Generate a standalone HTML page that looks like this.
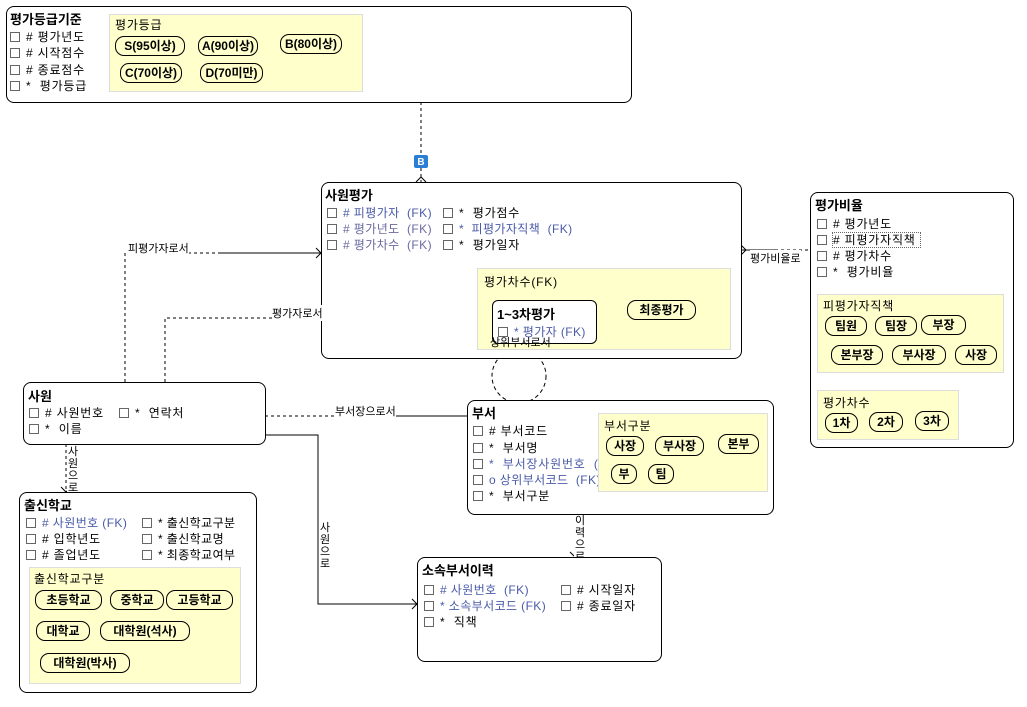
<!DOCTYPE html>
<html><head><meta charset="utf-8">
<style>
body{margin:0;width:1027px;height:707px;background:#fff;position:relative;overflow:hidden;font-family:"Liberation Sans","Noto Sans CJK KR","NanumGothic",sans-serif;font-size:12px;color:#000}
.e{position:absolute;border:1px solid #000;border-radius:8px;background:#fff}
.t{position:absolute;font-weight:bold;font-size:13px;white-space:nowrap}
.a{position:absolute;white-space:nowrap;font-size:12px;line-height:16px;letter-spacing:0.8px}
.a b{display:inline-block;width:8px;height:8px;border:1px solid #666;margin-right:6px;vertical-align:-1px;font-weight:normal}
.n{letter-spacing:0.4px}
.fk{color:#4a5ba8}
.y{position:absolute;background:#ffffcc;border:1px solid #ddd}
.p{position:absolute;border:1px solid #000;border-radius:9px;font-weight:bold;font-size:12px;line-height:18px;text-align:center;white-space:nowrap;background:#ffffcc}
.l{position:absolute;font-size:11px;white-space:nowrap;background:#fff}
.v{position:absolute;font-size:11px;width:12px;line-height:12px;text-align:center;background:#fff}
svg{position:absolute;left:0;top:0}
</style></head><body>
<svg width="1027" height="707">
<g fill="none" stroke="#000" stroke-width="1">
<line x1="421" y1="102" x2="421" y2="182" stroke-dasharray="3,3"/>
<path d="M125 382 V253 H220" stroke-dasharray="3,3"/><path d="M220 253 H321"/>
<path d="M165 382 V318 H320" stroke-dasharray="3,3"/><path d="M320 318 H492"/>
<path d="M741 250 H775"/><path d="M775 250 H810" stroke-dasharray="3,3"/>
<circle cx="519" cy="376" r="27" stroke-dasharray="4,3"/>
<path d="M265 416 H365" stroke-dasharray="3,3"/><path d="M365 416 H467"/>
<path d="M265 435 H318 V604 H417"/>
<line x1="66" y1="444" x2="66" y2="492" stroke-dasharray="3,3"/>
<line x1="575" y1="514" x2="575" y2="557" stroke-dasharray="3,3"/>
<path d="M316 248 L321 253 L316 258 M316 253 H321"/>
<path d="M487 313 L492 318 L487 323"/>
<path d="M741 245 L746 250 L741 255"/>
<path d="M412 599 L417 604 L412 609"/>
<path d="M61 487 L66 492 L71 487"/>
<path d="M570 552 L575 557 L580 552"/>
<path d="M416 182 L421 177 L426 182"/>
</g>
<rect x="414" y="155" width="14" height="13" rx="2" fill="#2a7fd4"/>
<text x="421" y="165" font-size="10" font-weight="bold" fill="#fff" text-anchor="middle" font-family="Liberation Sans">B</text>
</svg>

<div class="e" style="left:6px;top:6px;width:624px;height:95px"></div>
<div class="t" style="left:10px;top:9px">평가등급기준</div>
<div class="a" style="left:10px;top:29px"><b></b># 평가년도</div>
<div class="a" style="left:10px;top:45px"><b></b># 시작점수</div>
<div class="a" style="left:10px;top:62px"><b></b># 종료점수</div>
<div class="a" style="left:10px;top:78px"><b></b>*&nbsp; 평가등급</div>
<div class="y" style="left:109px;top:14px;width:252px;height:76px"></div>
<div class="a" style="left:115px;top:17px">평가등급</div>
<div class="p" style="left:115px;top:36px;width:68px">S(95이상)</div>
<div class="p" style="left:198px;top:36px;width:58px">A(90이상)</div>
<div class="p" style="left:280px;top:34px;width:60px">B(80이상)</div>
<div class="p" style="left:120px;top:63px;width:60px">C(70이상)</div>
<div class="p" style="left:200px;top:63px;width:61px">D(70미만)</div>

<div class="e" style="left:321px;top:182px;width:419px;height:175px"></div>
<div class="t" style="left:325px;top:185px">사원평가</div>
<div class="a n" style="left:327px;top:205px"><b></b><span class="fk"># 피평가자 &nbsp;(FK)</span></div>
<div class="a n" style="left:327px;top:221px;color:#6a6aa0"><b></b># 평가년도 &nbsp;(FK)</div>
<div class="a n" style="left:327px;top:237px;color:#6a6aa0"><b></b># 평가차수 &nbsp;(FK)</div>
<div class="a" style="left:443px;top:205px"><b></b>* &nbsp;평가점수</div>
<div class="a n" style="left:443px;top:221px"><b></b><span class="fk">* &nbsp;피평가자직책 &nbsp;(FK)</span></div>
<div class="a" style="left:443px;top:237px"><b></b>* &nbsp;평가일자</div>
<div class="y" style="left:477px;top:268px;width:252px;height:80px"></div>
<div class="a" style="left:484px;top:274px">평가차수(FK)</div>
<div class="e" style="left:492px;top:300px;width:103px;height:42px;border-radius:6px"></div>
<div class="t" style="left:497px;top:304px">1~3차평가</div>
<div class="a fk n" style="left:498px;top:324px"><b></b>* 평가자 (FK)</div>
<div class="p" style="left:627px;top:300px;width:67px">최종평가</div>
<div class="l" style="left:490px;top:334px;background:none">상위부서로서</div>

<div class="e" style="left:810px;top:192px;width:202px;height:254px"></div>
<div class="t" style="left:815px;top:195px">평가비율</div>
<div class="a" style="left:817px;top:216px"><b></b># 평가년도</div>
<div class="a" style="left:817px;top:232px"><b></b><span style="outline:1px dotted #666">#&nbsp;피평가자직책&nbsp;</span></div>
<div class="a" style="left:817px;top:248px"><b></b># 평가차수</div>
<div class="a" style="left:817px;top:264px"><b></b>* &nbsp;평가비율</div>
<div class="y" style="left:817px;top:294px;width:185px;height:77px"></div>
<div class="a" style="left:823px;top:298px">피평가자직책</div>
<div class="p" style="left:825px;top:316px;width:40px">팀원</div>
<div class="p" style="left:875px;top:316px;width:40px">팀장</div>
<div class="p" style="left:921px;top:315px;width:43px">부장</div>
<div class="p" style="left:831px;top:345px;width:50px">본부장</div>
<div class="p" style="left:892px;top:345px;width:52px">부사장</div>
<div class="p" style="left:955px;top:345px;width:40px">사장</div>
<div class="y" style="left:817px;top:390px;width:140px;height:48px"></div>
<div class="a" style="left:823px;top:395px">평가차수</div>
<div class="p" style="left:825px;top:413px;width:31px">1차</div>
<div class="p" style="left:869px;top:412px;width:32px">2차</div>
<div class="p" style="left:915px;top:411px;width:32px">3차</div>
<div class="l" style="left:750px;top:250px">평가비율로</div>

<div class="e" style="left:23px;top:382px;width:241px;height:61px"></div>
<div class="t" style="left:28px;top:386px">사원</div>
<div class="a" style="left:29px;top:405px"><b></b># 사원번호</div>
<div class="a" style="left:119px;top:405px"><b></b>* &nbsp;연락처</div>
<div class="a" style="left:29px;top:421px"><b></b>* &nbsp;이름</div>
<div class="l" style="left:128px;top:240px">피평가자로서</div>
<div class="l" style="left:272px;top:305px">평가자로서</div>
<div class="l" style="left:335px;top:403px">부서장으로서</div>
<div class="v" style="left:67px;top:446px">사원으로</div>
<div class="v" style="left:319px;top:522px">사원으로</div>
<div class="v" style="left:574px;top:515px">이력으로</div>

<div class="e" style="left:467px;top:400px;width:305px;height:113px"></div>
<div class="t" style="left:472px;top:403px">부서</div>
<div class="a" style="left:473px;top:423px"><b></b># 부서코드</div>
<div class="a" style="left:473px;top:440px"><b></b>* &nbsp;부서명</div>
<div class="a fk" style="left:473px;top:456px"><b></b>* &nbsp;부서장사원번호 &nbsp;(FK)</div>
<div class="a fk n" style="left:473px;top:472px"><b></b>o 상위부서코드 &nbsp;(FK)</div>
<div class="a" style="left:473px;top:488px"><b></b>* &nbsp;부서구분</div>
<div class="y" style="left:598px;top:413px;width:168px;height:77px"></div>
<div class="a" style="left:604px;top:418px">부서구분</div>
<div class="p" style="left:606px;top:436px;width:36px">사장</div>
<div class="p" style="left:655px;top:436px;width:47px">부사장</div>
<div class="p" style="left:718px;top:434px;width:39px">본부</div>
<div class="p" style="left:611px;top:464px;width:24px">부</div>
<div class="p" style="left:648px;top:464px;width:24px">팀</div>

<div class="e" style="left:19px;top:492px;width:236px;height:199px"></div>
<div class="t" style="left:24px;top:495px">출신학교</div>
<div class="a fk n" style="left:26px;top:515px"><b></b># 사원번호 (FK)</div>
<div class="a" style="left:26px;top:531px"><b></b># 입학년도</div>
<div class="a" style="left:26px;top:547px"><b></b># 졸업년도</div>
<div class="a n" style="left:142px;top:515px"><b></b>* 출신학교구분</div>
<div class="a n" style="left:142px;top:531px"><b></b>* 출신학교명</div>
<div class="a n" style="left:142px;top:547px"><b></b>* 최종학교여부</div>
<div class="y" style="left:29px;top:567px;width:210px;height:115px"></div>
<div class="a" style="left:34px;top:571px">출신학교구분</div>
<div class="p" style="left:35px;top:590px;width:65px">초등학교</div>
<div class="p" style="left:110px;top:590px;width:52px">중학교</div>
<div class="p" style="left:166px;top:590px;width:65px">고등학교</div>
<div class="p" style="left:36px;top:621px;width:52px">대학교</div>
<div class="p" style="left:100px;top:621px;width:88px">대학원(석사)</div>
<div class="p" style="left:40px;top:653px;width:88px">대학원(박사)</div>

<div class="e" style="left:417px;top:557px;width:243px;height:103px"></div>
<div class="t" style="left:422px;top:560px">소속부서이력</div>
<div class="a fk n" style="left:424px;top:582px"><b></b># 사원번호 &nbsp;(FK)</div>
<div class="a fk n" style="left:424px;top:598px"><b></b>* 소속부서코드 (FK)</div>
<div class="a" style="left:424px;top:614px"><b></b>* &nbsp;직책</div>
<div class="a" style="left:561px;top:582px"><b></b># 시작일자</div>
<div class="a" style="left:561px;top:598px"><b></b># 종료일자</div>
</body></html>
